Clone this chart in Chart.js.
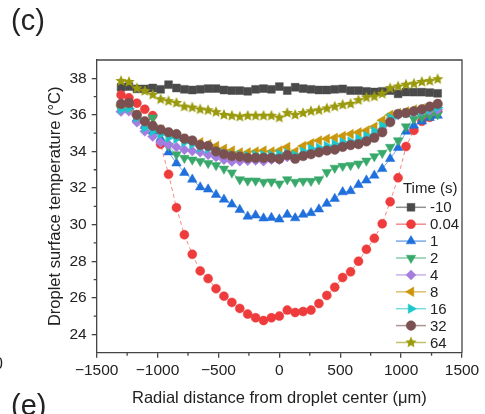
<!DOCTYPE html>
<html>
<head>
<meta charset="utf-8">
<script src="https://cdn.jsdelivr.net/npm/chart.js@4/dist/chart.umd.min.js"></script>
<style>
  html, body { margin: 0; padding: 0; background: #fff; }
  canvas { display: block; }
</style>
</head>
<body>
<canvas id="chart" width="485" height="414"></canvas>
<script>
// Radial distance (um) of each measurement point
const radialDistance = [-1300,-1235,-1170,-1105,-1040,-975,-910,-845,-780,-715,-650,-585,-520,-455,-390,-325,-260,-195,-130,-65,0,65,130,195,260,325,390,455,520,585,650,715,780,845,910,975,1040,1105,1170,1235,1300];

// Surface temperature (oC) per time step
const tMinus10 = [37.51,37.55,37.42,37.42,37.47,37.4,37.65,37.47,37.4,37.36,37.4,37.44,37.44,37.36,37.33,37.33,37.29,37.4,37.44,37.4,37.55,37.33,37.51,37.44,37.4,37.36,37.36,37.4,37.42,37.33,37.33,37.29,37.25,37.29,37.33,37.15,37.25,37.24,37.24,37.22,37.18];
const t004 = [37.09,36.93,36.64,36.31,35.96,34.4,32.75,30.93,29.45,28.38,27.47,27.05,26.5,26.09,25.75,25.42,25.11,24.91,24.76,24.91,25.0,25.33,25.2,25.25,25.33,25.69,26.13,26.58,27.11,27.42,28.0,28.65,29.25,30.05,31.25,32.56,34.27,35.15,35.65,35.87,36.2];
const t1 = [36.3,36.35,35.8,35.4,35.1,34.7,33.96,33.36,32.84,32.47,32.05,31.93,31.64,31.38,31.11,30.82,30.45,30.51,30.35,30.38,30.29,30.55,30.36,30.55,30.64,30.84,31.15,31.42,31.78,31.84,32.18,32.42,32.69,33.05,33.6,34.2,35.09,35.42,35.65,35.84,35.96];
const t2 = [36.3,36.4,35.9,35.6,35.85,35.0,34.3,33.84,33.64,33.55,33.47,33.36,33.24,33.05,32.84,32.47,32.4,32.4,32.33,32.35,32.24,32.47,32.33,32.38,32.38,32.47,32.87,33.1,33.2,33.25,33.33,33.49,33.73,33.91,34.24,34.6,35.36,35.78,35.87,35.96,36.02];
const t4 = [36.18,36.2,35.6,35.1,34.82,34.5,34.38,34.24,34.1,34.02,33.96,33.82,33.7,33.55,33.45,33.47,33.49,33.51,33.47,33.55,33.55,33.7,33.65,33.8,33.9,34.0,34.1,34.2,34.3,34.35,34.5,34.65,34.85,35.2,35.7,36.0,36.1,36.15,36.2,36.25,36.3];
const t8 = [36.5,36.4,36.0,35.6,35.4,35.2,35.0,34.85,34.7,34.55,34.5,34.4,34.3,34.15,34.05,33.95,33.95,34.0,34.05,34.0,34.05,34.25,34.0,34.3,34.45,34.6,34.7,34.75,34.85,34.95,35.05,35.15,35.35,35.7,36.0,36.1,36.2,36.3,36.35,36.4,36.6];
const t16 = [36.3,36.35,35.85,35.3,35.1,34.95,34.75,34.7,34.5,34.4,34.2,34.15,34.0,33.9,33.8,33.8,33.75,33.8,33.8,33.8,33.85,33.9,33.8,34.0,34.15,34.2,34.3,34.4,34.5,34.55,34.7,34.85,35.1,35.4,35.85,36.0,36.1,36.15,36.2,36.3,36.4];
const t32 = [36.6,36.65,36.0,35.65,35.4,35.2,35.05,34.95,34.7,34.6,34.35,34.3,34.0,33.85,33.75,33.72,33.65,33.65,33.65,33.65,33.6,33.8,33.6,33.75,33.85,33.95,34.05,34.1,34.25,34.35,34.4,34.55,34.75,35.05,35.6,36.05,36.1,36.2,36.3,36.45,36.6];
const t64 = [37.85,37.8,37.45,37.3,37.1,36.85,36.75,36.65,36.45,36.4,36.3,36.25,36.15,36.0,35.95,35.9,35.95,35.95,35.95,35.95,35.85,36.1,36.0,36.1,36.2,36.25,36.35,36.45,36.55,36.6,36.8,36.95,37.0,37.15,37.45,37.55,37.65,37.7,37.8,37.85,37.95];

const timeLabels = ['-10', '0.04', '1', '2', '4', '8', '16', '32', '64'];
const seriesValues = [tMinus10, t004, t1, t2, t4, t8, t16, t32, t64];

const xTicks = [-1500, -1000, -500, 0, 500, 1000, 1500];
const yTicks = [24, 26, 28, 30, 32, 34, 36, 38];

const FONT = "'Liberation Sans', Arial, sans-serif";

// filled five-point star for the 64 s series
function makeStar(color, r) {
  const c = document.createElement('canvas');
  const s = Math.ceil(r * 2 + 2);
  c.width = s; c.height = s;
  const g = c.getContext('2d');
  g.fillStyle = color;
  g.beginPath();
  for (let i = 0; i < 10; i++) {
    const rad = i % 2 === 0 ? r : r * 0.45;
    const a = -Math.PI / 2 + i * Math.PI / 5;
    const px = s / 2 + Math.cos(a) * rad, py = s / 2 + Math.sin(a) * rad;
    if (i === 0) g.moveTo(px, py); else g.lineTo(px, py);
  }
  g.closePath();
  g.fill();
  return c;
}

const styles = [
  { color: '#4a4a4a', line: 'rgba(74,74,74,0.6)',   style: 'rect',     rot: 0,   r: 5.5 },
  { color: '#ee3b3b', line: 'rgba(238,59,59,0.6)',  style: 'circle',   rot: 0,   r: 4.5, dash: [4, 3] },
  { color: '#1f6fdc', line: 'rgba(31,111,220,0.6)', style: 'triangle', rot: 0,   r: 5.5 },
  { color: '#38a96a', line: 'rgba(56,169,106,0.6)', style: 'triangle', rot: 180, r: 5.5 },
  { color: '#a57de0', line: 'rgba(165,125,224,0.6)', style: 'rectRot', rot: 0,   r: 5 },
  { color: '#c9960c', line: 'rgba(201,150,12,0.6)', style: 'triangle', rot: 270, r: 5.5 },
  { color: '#1cc6cc', line: 'rgba(28,198,204,0.6)', style: 'triangle', rot: 90,  r: 5.5 },
  { color: '#7a5050', line: 'rgba(122,80,80,0.6)',  style: 'circle',   rot: 0,   r: 4.8 },
  { color: '#9a9a0c', line: 'rgba(154,154,12,0.6)', style: makeStar('#9a9a0c', 6), rot: 0, r: 6 }
];

const datasets = seriesValues.map((vals, i) => ({
  label: timeLabels[i],
  data: vals.map((v, k) => ({ x: radialDistance[k], y: v })),
  borderColor: styles[i].line,
  borderWidth: 1,
  borderDash: styles[i].dash || [],
  backgroundColor: styles[i].color,
  pointBackgroundColor: styles[i].color,
  pointBorderColor: styles[i].color,
  pointBorderWidth: 0.5,
  pointStyle: styles[i].style,
  pointRotation: styles[i].rot,
  pointRadius: styles[i].r,
  tension: 0,
  order: 9 - i
}));

function drawMarker(ctx, st, x, y) {
  ctx.save();
  ctx.fillStyle = st.color;
  ctx.strokeStyle = st.color;
  ctx.lineWidth = 0.5;
  if (Chart.helpers && Chart.helpers.drawPoint) {
    Chart.helpers.drawPoint(ctx, { pointStyle: st.style, rotation: st.rot, radius: st.r, borderWidth: 0.5 }, x, y);
  }
  ctx.restore();
}

const extras = {
  id: 'extras',
  afterDraw(chart) {
    const ctx = chart.ctx;
    const a = chart.chartArea;
    const xs = chart.scales.x, ys = chart.scales.y;
    ctx.save();
    ctx.strokeStyle = '#444';
    ctx.lineWidth = 1.3;
    // top and right frame
    ctx.beginPath();
    ctx.moveTo(a.left, a.top); ctx.lineTo(a.right, a.top); ctx.lineTo(a.right, a.bottom);
    ctx.stroke();
    // minor ticks
    ctx.beginPath();
    [-1250, -750, -250, 250, 750, 1250].forEach(v => {
      const px = xs.getPixelForValue(v);
      ctx.moveTo(px, a.bottom); ctx.lineTo(px, a.bottom + 3);
    });
    [25, 27, 29, 31, 33, 35, 37].forEach(v => {
      const py = ys.getPixelForValue(v);
      ctx.moveTo(a.left, py); ctx.lineTo(a.left - 3, py);
    });
    ctx.stroke();

    // legend
    ctx.fillStyle = '#222';
    ctx.font = '15px ' + FONT;
    ctx.textBaseline = 'middle';
    ctx.textAlign = 'left';
    ctx.fillText('Time (s)', 403, 189);
    styles.forEach((st, i) => {
      const y = 207.3 + i * 16.9;
      ctx.strokeStyle = st.line;
      ctx.lineWidth = 1.5;
      ctx.setLineDash([]);
      ctx.beginPath(); ctx.moveTo(396, y); ctx.lineTo(426, y); ctx.stroke();
      drawMarker(ctx, st, 411, y);
      ctx.fillStyle = '#222';
      ctx.fillText(timeLabels[i], 430, y + 1);
    });

    // panel letters
    ctx.font = '29px ' + FONT;
    ctx.fillText('(c)', 11, 22);
    ctx.fillText('(e)', 11, 407);
    ctx.font = '16px ' + FONT;
    ctx.fillText('0', -6, 365);
    ctx.restore();
  }
};

new Chart(document.getElementById('chart'), {
  type: 'line',
  data: { datasets },
  options: {
    responsive: false,
    animation: false,
    layout: { padding: { top: 60, right: 23, left: 0, bottom: 0 } },
    plugins: { legend: { display: false }, tooltip: { enabled: false } },
    scales: {
      x: {
        type: 'linear',
        min: -1500, max: 1500,
        afterFit(s) { s.height = 61.3; },
        afterBuildTicks(s) { s.ticks = xTicks.map(v => ({ value: v })); },
        ticks: {
          color: '#222', padding: 4,
          font: { family: FONT, size: 15.5 },
          maxRotation: 0,
          callback: v => String(v).replace('-', '\u2212')
        },
        grid: { drawOnChartArea: false, drawTicks: true, tickLength: 5, color: '#444', lineWidth: 1.3 },
        border: { display: true, color: '#444', width: 1.3 },
        title: {
          display: true,
          text: 'Radial distance from droplet center (\u03bcm)',
          color: '#222',
          font: { family: FONT, size: 16.5 },
          padding: { top: 0, bottom: 6 }
        }
      },
      y: {
        type: 'linear',
        min: 23, max: 39,
        afterFit(s) { s.width = 96.7; },
        afterBuildTicks(s) { s.ticks = yTicks.map(v => ({ value: v })); },
        ticks: { color: '#222', padding: 5, font: { family: FONT, size: 15.5 } },
        grid: { drawOnChartArea: false, drawTicks: true, tickLength: 5, color: '#444', lineWidth: 1.3 },
        border: { display: true, color: '#444', width: 1.3 },
        title: {
          display: true,
          text: 'Droplet surface temperature (\u00b0C)',
          color: '#222',
          font: { family: FONT, size: 16.5 },
          padding: { top: 46, bottom: 0 }
        }
      }
    }
  },
  plugins: [extras]
});
</script>
</body>
</html>
